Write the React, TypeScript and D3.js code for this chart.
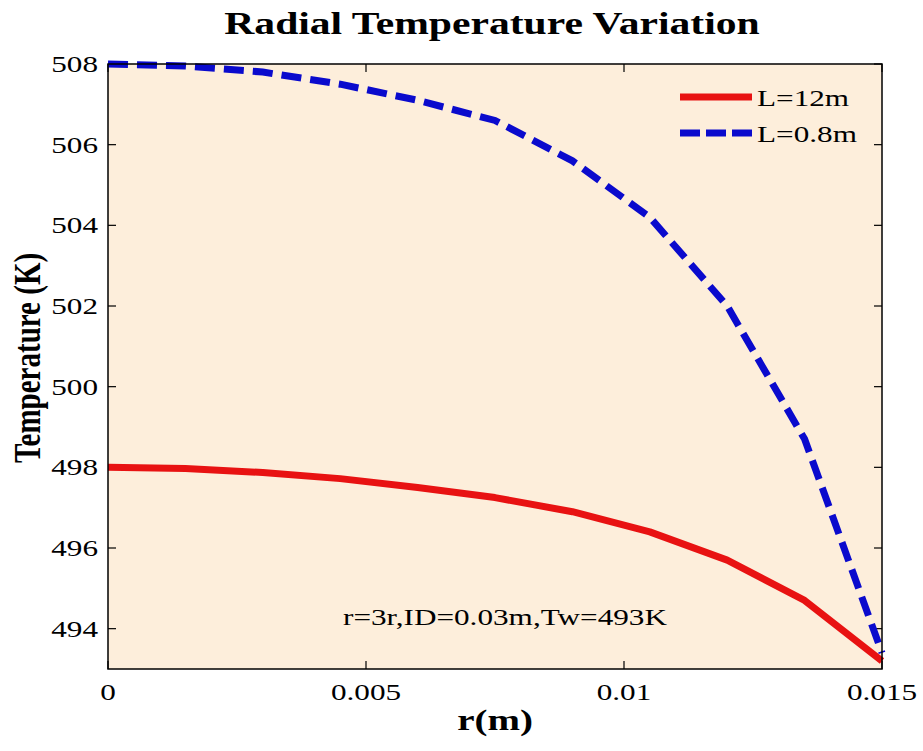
import React from "react";
import * as d3 from "d3";

const rValues = [0, 0.0015, 0.003, 0.0045, 0.006, 0.0075, 0.009, 0.0105, 0.012, 0.0135, 0.015];
const tempL12 = [498.0, 497.97, 497.87, 497.72, 497.5, 497.25, 496.9, 496.4, 495.7, 494.7, 493.2];
const tempL08 = [508.0, 507.95, 507.8, 507.5, 507.1, 506.6, 505.6, 504.2, 502.0, 498.7, 493.4];
const xTicks = [0, 0.005, 0.01, 0.015];
const xTickLabels = ["0", "0.005", "0.01", "0.015"];
const yTicks = [494, 496, 498, 500, 502, 504, 506, 508];
const seriesNames = ["L=12m", "L=0.8m"];
const titleText = "Radial Temperature Variation";
const xLabel = "r(m)";
const yLabel = "Temperature (K)";
const noteText = "r=3r,ID=0.03m,Tw=493K";

const W = 923, H = 751;
const L = 108, R = 882, T = 64, B = 669;
const SX = 1.3;
const FONT = "'Liberation Serif', 'Times New Roman', serif";

export default function App() {
  const x = d3.scaleLinear().domain([0, 0.015]).range([L, R]);
  const y = d3.scaleLinear().domain([493, 508]).range([B, T]);
  const line = d3.line<number>().x((_, i) => x(rValues[i])).y((v) => y(v));
  const tk = 8;
  const txt = (
    s: string, px: number, py: number, size: number, anchor: string,
    bold = false, rot = false
  ) => (
    <text
      transform={`translate(${px},${py}) scale(${SX},1)${rot ? " rotate(-90)" : ""}`}
      textAnchor={anchor}
      fontFamily={FONT}
      fontSize={size}
      fontWeight={bold ? "bold" : "normal"}
      fill="#000"
    >
      {s}
    </text>
  );
  return (
    <svg width={W} height={H} style={{ position: "absolute", left: 0, top: 0, background: "#fff" }}>
      <rect x={L} y={T} width={R - L} height={B - T} fill="#FDEEDB" />
      {xTicks.map((t, i) => (
        <g key={"xt" + i}>
          <line x1={x(t)} x2={x(t)} y1={B} y2={B - tk} stroke="#000" strokeWidth={1.2} />
          <line x1={x(t)} x2={x(t)} y1={T} y2={T + tk} stroke="#000" strokeWidth={1.2} />
          {txt(xTickLabels[i], x(t), 700, 24, "middle")}
        </g>
      ))}
      {yTicks.map((t, i) => (
        <g key={"yt" + i}>
          <line x1={L} x2={L + tk} y1={y(t)} y2={y(t)} stroke="#000" strokeWidth={1.2} />
          <line x1={R} x2={R - tk} y1={y(t)} y2={y(t)} stroke="#000" strokeWidth={1.2} />
          {txt(String(t), 98, y(t) + 8, 24, "end")}
        </g>
      ))}
      <path d={line(tempL12) || ""} fill="none" stroke="#E81212" strokeWidth={7} strokeLinejoin="round" />
      <path d={line(tempL08) || ""} fill="none" stroke="#0A0ACD" strokeWidth={7} strokeDasharray="20 9" />
      <rect x={L} y={T} width={R - L} height={B - T} fill="none" stroke="#000" strokeWidth={1.5} />
      <line x1={680} x2={752} y1={97} y2={97} stroke="#E81212" strokeWidth={7} />
      {txt(seriesNames[0], 757, 106, 24, "start")}
      <line x1={680} x2={752} y1={133} y2={133} stroke="#0A0ACD" strokeWidth={7} strokeDasharray="20 6" />
      {txt(seriesNames[1], 757, 142, 24, "start")}
      {txt(noteText, 505, 625, 24, "middle")}
      {txt(titleText, 492, 34, 32, "middle", true)}
      {txt(xLabel, 495, 730, 30, "middle", true)}
      {txt(yLabel, 40, 358, 29, "middle", true, true)}
    </svg>
  );
}
